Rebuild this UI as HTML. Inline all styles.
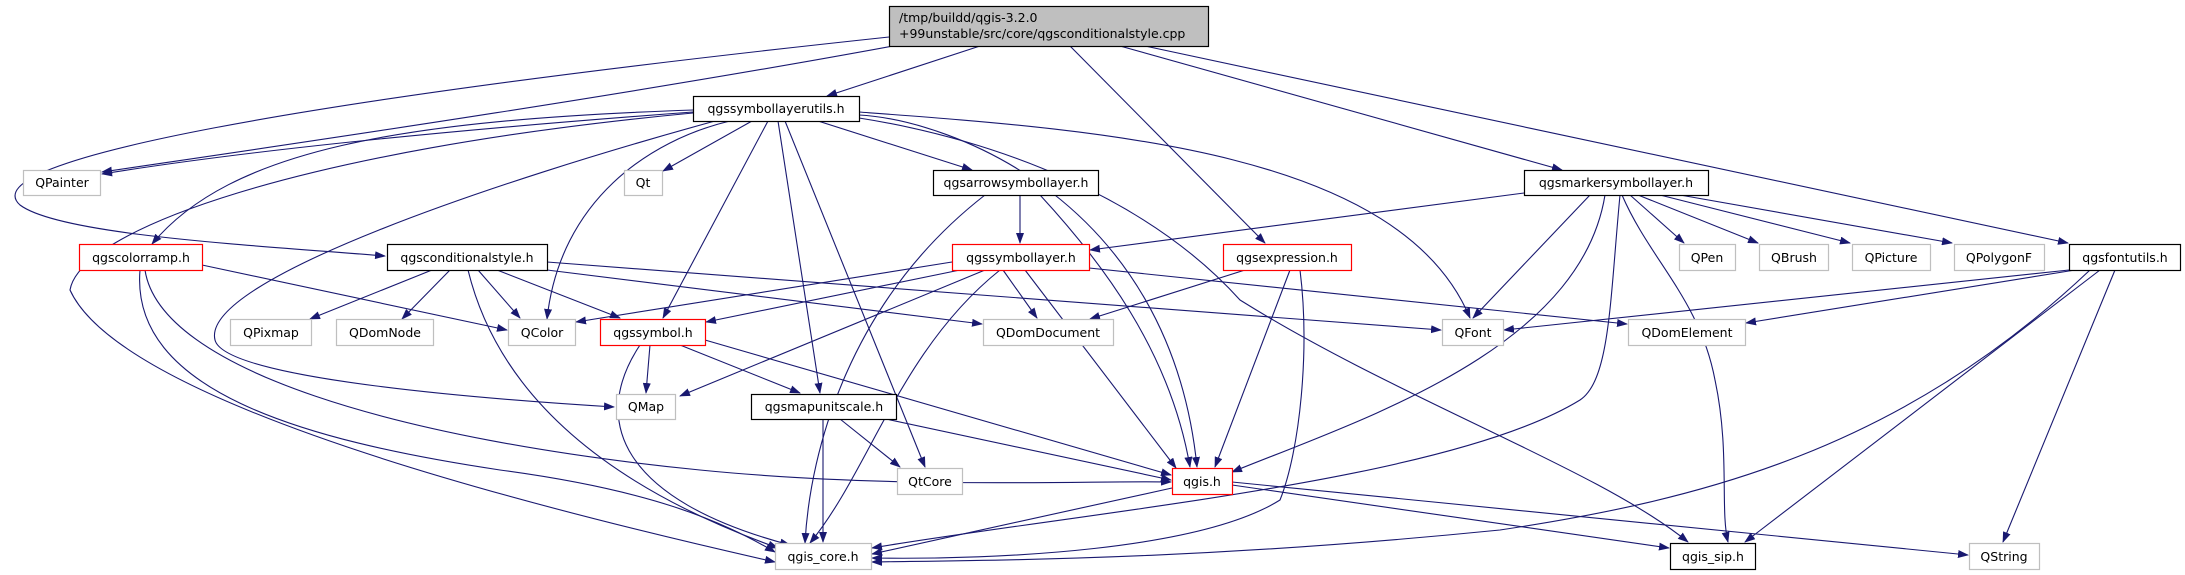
<!DOCTYPE html>
<html><head><meta charset="utf-8"><style>
html,body{margin:0;padding:0;background:#fff;}
svg{display:block;}
text{font-family:"DejaVu Sans","Liberation Sans",sans-serif;font-size:12.5px;fill:#000;}
</style></head><body>
<svg width="2185" height="575" viewBox="0 0 2185 575" xmlns="http://www.w3.org/2000/svg">
<defs><marker id="a" markerWidth="11" markerHeight="8" refX="10" refY="4" orient="auto" markerUnits="userSpaceOnUse"><path d="M0,0 L11,4 L0,8 z" fill="#191970"/></marker></defs>
<g fill="none" stroke="#191970" stroke-width="1.1" marker-end="url(#a)">
<path d="M980,46 L827,96"/>
<path d="M893,46 C600,100 250,150 102,172"/>
<path d="M889,37 C300,100 -30,160 20,205 C60,235 250,245 385,256"/>
<path d="M1070,46 L1265,243"/>
<path d="M1120,46 L1562,170"/>
<path d="M1145,46 L2068,243"/>
<path d="M693,112 C450,130 250,150 102,174"/>
<path d="M693,110 C400,120 230,150 152,244"/>
<path d="M693,113 C300,150 80,230 70,290 C120,400 500,500 775,562"/>
<path d="M715,121 C500,180 200,280 215,340 C225,380 500,400 614,407"/>
<path d="M730,121 C650,140 560,200 547,319"/>
<path d="M752,121 L663,171"/>
<path d="M768,121 L663,318"/>
<path d="M778,121 L820,393"/>
<path d="M785,121 L925,467"/>
<path d="M818,121 L972,170"/>
<path d="M859,115 C950,120 1170,200 1197,467"/>
<path d="M859,112 C1100,130 1400,150 1470,318"/>
<path d="M859,118 C1000,140 1150,200 1240,300 C1400,400 1600,470 1688,542"/>
<path d="M1020,195 L1020,243"/>
<path d="M1040,195 C1100,260 1170,350 1190,467"/>
<path d="M985,195 C850,300 810,450 805,543"/>
<path d="M202,265 L507,330"/>
<path d="M140,270 C130,390 300,440 500,470 C650,490 720,520 775,552"/>
<path d="M145,270 C160,370 400,440 700,470 C900,490 1100,480 1171,482"/>
<path d="M432,270 L310,319"/>
<path d="M450,270 L402,319"/>
<path d="M478,270 L520,318"/>
<path d="M497,270 L620,318"/>
<path d="M468,270 C490,360 560,470 778,548"/>
<path d="M547,270 L982,324"/>
<path d="M547,262 L1441,330"/>
<path d="M952,262 L576,322"/>
<path d="M960,270 L706,322"/>
<path d="M985,270 L680,396"/>
<path d="M1003,270 L1037,318"/>
<path d="M1025,270 L1176,468"/>
<path d="M1000,270 C900,350 870,470 810,543"/>
<path d="M1089,268 L1627,324"/>
<path d="M1524,193 L1090,250"/>
<path d="M1590,195 L1473,318"/>
<path d="M1605,195 C1580,350 1360,420 1232,472"/>
<path d="M1620,195 C1610,300 1610,380 1580,400 C1450,480 1100,510 872,548"/>
<path d="M1622,195 C1650,260 1700,300 1715,380 C1730,450 1720,510 1728,542"/>
<path d="M1630,195 L1684,243"/>
<path d="M1638,195 L1758,243"/>
<path d="M1660,195 L1850,243"/>
<path d="M1680,195 L1952,243"/>
<path d="M1245,270 L1090,319"/>
<path d="M1290,270 L1215,467"/>
<path d="M1300,270 C1310,350 1300,450 1280,500 C1200,550 1000,560 872,558"/>
<path d="M2069,270 L1504,330"/>
<path d="M2075,270 L1746,323"/>
<path d="M2090,270 C1900,450 1700,500 1500,530 C1200,560 1000,560 872,562"/>
<path d="M2100,270 L1745,542"/>
<path d="M2115,270 L2003,542"/>
<path d="M650,345 L646,393"/>
<path d="M680,345 L800,393"/>
<path d="M640,345 C590,420 620,500 790,545"/>
<path d="M705,340 L1171,475"/>
<path d="M840,419 L900,467"/>
<path d="M823,419 L823,542"/>
<path d="M886,419 L1171,480"/>
<path d="M1172,488 L872,554"/>
<path d="M1232,485 L1669,548"/>
<path d="M1232,482 L1968,555"/>
</g>
<g stroke-width="1.2">
<rect x="889.5" y="6.5" width="319" height="40" fill="#bfbfbf" stroke="#000"/>
<rect x="693.5" y="96.5" width="166" height="25" fill="#fff" stroke="#000"/>
<rect x="23.5" y="170.5" width="77" height="25" fill="#fff" stroke="#bfbfbf"/>
<rect x="624.5" y="170.5" width="38" height="25" fill="#fff" stroke="#bfbfbf"/>
<rect x="933.5" y="170.5" width="165" height="25" fill="#fff" stroke="#000"/>
<rect x="1524.5" y="170.5" width="184" height="25" fill="#fff" stroke="#000"/>
<rect x="79.5" y="244.5" width="123" height="26" fill="#fff" stroke="#f00"/>
<rect x="387.5" y="244.5" width="160" height="26" fill="#fff" stroke="#000"/>
<rect x="952.5" y="244.5" width="137" height="26" fill="#fff" stroke="#f00"/>
<rect x="1223.5" y="244.5" width="128" height="26" fill="#fff" stroke="#f00"/>
<rect x="1679.5" y="244.5" width="56" height="26" fill="#fff" stroke="#bfbfbf"/>
<rect x="1759.5" y="244.5" width="69" height="26" fill="#fff" stroke="#bfbfbf"/>
<rect x="1852.5" y="244.5" width="78" height="26" fill="#fff" stroke="#bfbfbf"/>
<rect x="1954.5" y="244.5" width="90" height="26" fill="#fff" stroke="#bfbfbf"/>
<rect x="2069.5" y="244.5" width="111" height="26" fill="#fff" stroke="#000"/>
<rect x="230.5" y="319.5" width="81" height="26" fill="#fff" stroke="#bfbfbf"/>
<rect x="336.5" y="319.5" width="97" height="26" fill="#fff" stroke="#bfbfbf"/>
<rect x="508.5" y="319.5" width="67" height="26" fill="#fff" stroke="#bfbfbf"/>
<rect x="600.5" y="319.5" width="105" height="26" fill="#fff" stroke="#f00"/>
<rect x="983.5" y="319.5" width="130" height="26" fill="#fff" stroke="#bfbfbf"/>
<rect x="1442.5" y="319.5" width="61" height="26" fill="#fff" stroke="#bfbfbf"/>
<rect x="1628.5" y="319.5" width="117" height="26" fill="#fff" stroke="#bfbfbf"/>
<rect x="616.5" y="394.5" width="59" height="25" fill="#fff" stroke="#bfbfbf"/>
<rect x="751.5" y="394.5" width="145" height="25" fill="#fff" stroke="#000"/>
<rect x="897.5" y="468.5" width="65" height="26" fill="#fff" stroke="#bfbfbf"/>
<rect x="1172.5" y="468.5" width="60" height="26" fill="#fff" stroke="#f00"/>
<rect x="775.5" y="543.5" width="96" height="26" fill="#fff" stroke="#bfbfbf"/>
<rect x="1670.5" y="543.5" width="85" height="26" fill="#fff" stroke="#000"/>
<rect x="1969.5" y="543.5" width="70" height="26" fill="#fff" stroke="#bfbfbf"/>
</g>
<g>
<text x="899" y="22">/tmp/buildd/qgis-3.2.0</text>
<text x="899" y="38">+99unstable/src/core/qgsconditionalstyle.cpp</text>
</g>
<g text-anchor="middle">
<text x="776" y="113">qgssymbollayerutils.h</text>
<text x="62" y="187">QPainter</text>
<text x="643" y="187">Qt</text>
<text x="1016" y="187">qgsarrowsymbollayer.h</text>
<text x="1616" y="187">qgsmarkersymbollayer.h</text>
<text x="141" y="262">qgscolorramp.h</text>
<text x="467" y="262">qgsconditionalstyle.h</text>
<text x="1021" y="262">qgssymbollayer.h</text>
<text x="1287" y="262">qgsexpression.h</text>
<text x="1707" y="262">QPen</text>
<text x="1794" y="262">QBrush</text>
<text x="1891" y="262">QPicture</text>
<text x="1999" y="262">QPolygonF</text>
<text x="2125" y="262">qgsfontutils.h</text>
<text x="271" y="337">QPixmap</text>
<text x="385" y="337">QDomNode</text>
<text x="542" y="337">QColor</text>
<text x="653" y="337">qgssymbol.h</text>
<text x="1048" y="337">QDomDocument</text>
<text x="1473" y="337">QFont</text>
<text x="1687" y="337">QDomElement</text>
<text x="646" y="411">QMap</text>
<text x="824" y="411">qgsmapunitscale.h</text>
<text x="930" y="486">QtCore</text>
<text x="1202" y="486">qgis.h</text>
<text x="823" y="561">qgis_core.h</text>
<text x="1713" y="561">qgis_sip.h</text>
<text x="2004" y="561">QString</text>
</g>
</svg>
</body></html>
